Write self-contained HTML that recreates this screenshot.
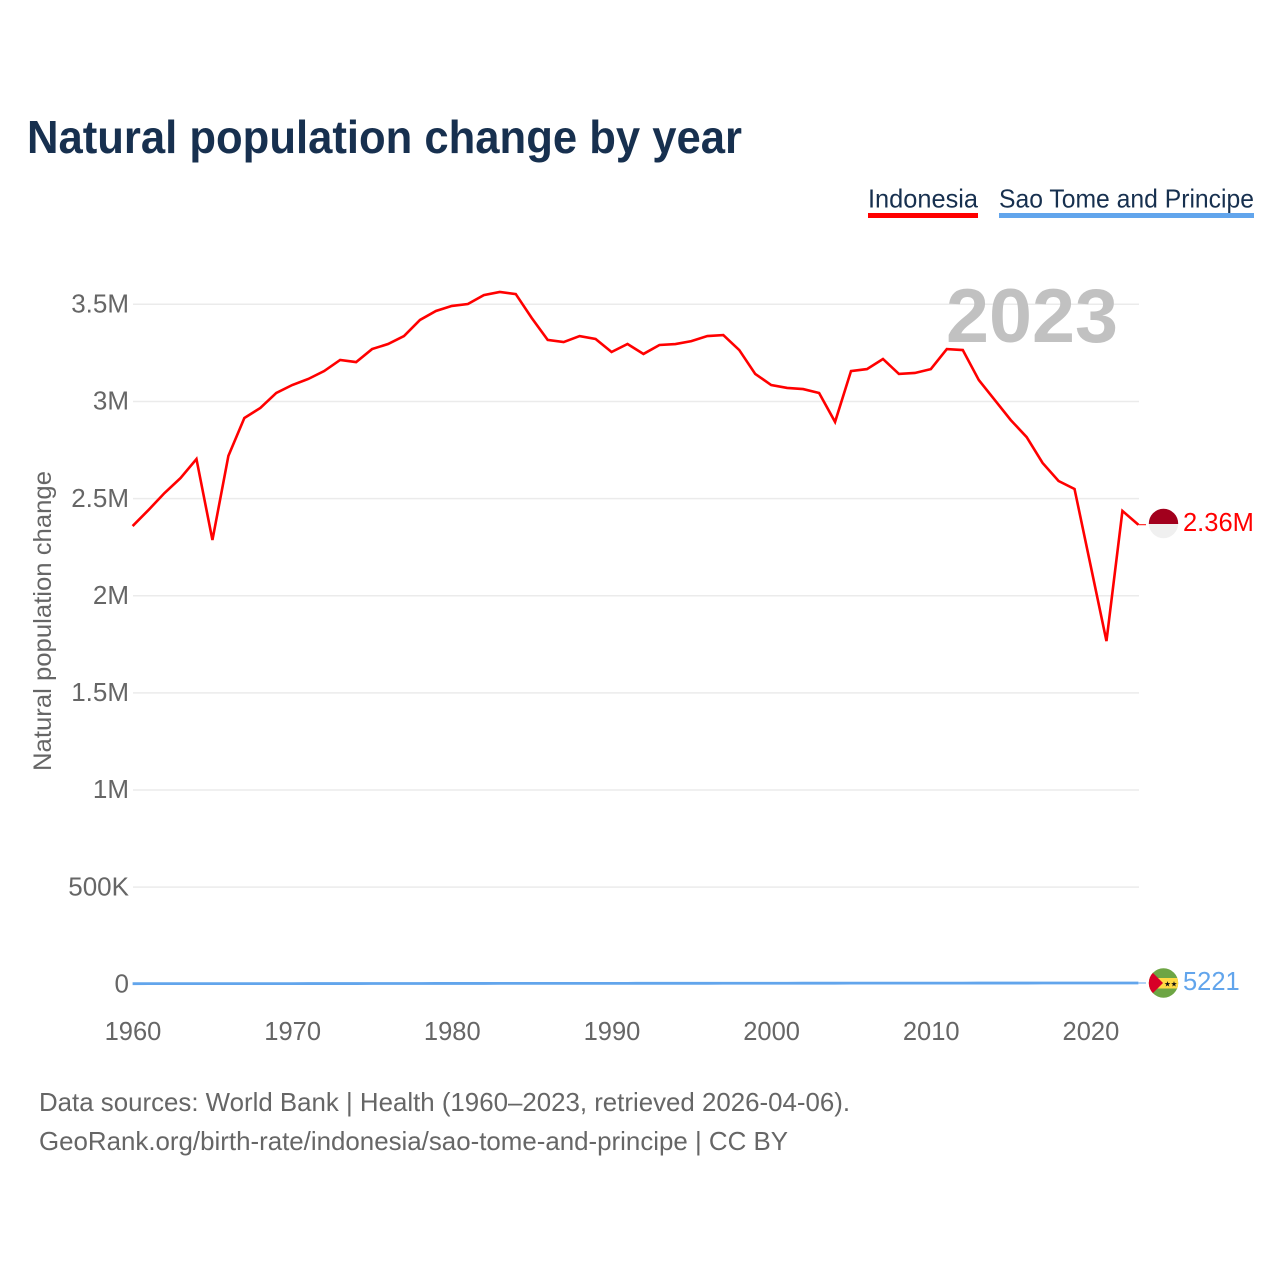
<!DOCTYPE html>
<html lang="en">
<head>
<meta charset="utf-8">
<title>Natural population change by year</title>
<style>
html,body{margin:0;padding:0;background:#fff;}
svg{display:block;font-family:"Liberation Sans",sans-serif;}
</style>
</head>
<body>
<svg id="chart" xmlns="http://www.w3.org/2000/svg" width="1280" height="1280" viewBox="0 0 1280 1280">
<rect x="0" y="0" width="1280" height="1280" fill="#fff"/>
<text x="27" y="153" font-size="46" font-weight="700" fill="#17304f" textLength="715" lengthAdjust="spacingAndGlyphs">Natural population change by year</text>
<g>
<text x="868" y="207.5" font-size="26" fill="#17304f" textLength="110" lengthAdjust="spacingAndGlyphs">Indonesia</text>
<rect x="868" y="213" width="110" height="5" fill="#ff0000"/>
</g>
<g>
<text x="999" y="207.5" font-size="26" fill="#17304f" textLength="255" lengthAdjust="spacingAndGlyphs">Sao Tome and Principe</text>
<rect x="999" y="213" width="255" height="5" fill="#62a5ec"/>
</g>
<g id="grid"></g>
<g id="yticks"></g>
<g id="xticks"></g>
<text transform="translate(51,621) rotate(-90)" text-anchor="middle" font-size="25" fill="#666" textLength="300" lengthAdjust="spacingAndGlyphs">Natural population change</text>
<text x="946" y="342" font-size="76" font-weight="700" fill="#c1c1c1" textLength="172" lengthAdjust="spacingAndGlyphs">2023</text>
<g id="series"></g>
<defs>
<clipPath id="clip-id"><circle cx="1163.5" cy="523.5" r="14.7"/></clipPath>
<clipPath id="clip-st"><circle cx="1163.5" cy="983" r="14.7"/></clipPath>
</defs>
<g clip-path="url(#clip-id)">
<rect x="1148" y="508" width="31" height="16" fill="#a2001d"/>
<rect x="1148" y="524" width="31" height="16" fill="#f0f0f0"/>
</g>
<g clip-path="url(#clip-st)">
<rect x="1148" y="968" width="31" height="31" fill="#6da544"/>
<rect x="1148" y="978" width="31" height="10.5" fill="#ffda44"/>
<polygon points="1148,968 1163,983 1148,998" fill="#d80027"/>
<text x="1167.5" y="986.5" font-size="7.5" text-anchor="middle" fill="#111" font-family="'DejaVu Sans',sans-serif">★</text>
<text x="1174" y="986.5" font-size="7.5" text-anchor="middle" fill="#111" font-family="'DejaVu Sans',sans-serif">★</text>
</g>
<text id="label-id" x="1183" y="531" font-size="25.5" fill="#ff0000"></text>
<text id="label-st" x="1183" y="990" font-size="25.5" fill="#62a5ec"></text>
<text x="39" y="1111" font-size="26" fill="#666" textLength="811" lengthAdjust="spacingAndGlyphs">Data sources: World Bank | Health (1960–2023, retrieved 2026-04-06).</text>
<text x="39" y="1150" font-size="26" fill="#666" textLength="749" lengthAdjust="spacingAndGlyphs">GeoRank.org/birth-rate/indonesia/sao-tome-and-principe | CC BY</text>
</svg>
<script>
const years = [1960,1961,1962,1963,1964,1965,1966,1967,1968,1969,1970,1971,1972,1973,1974,1975,1976,1977,1978,1979,1980,1981,1982,1983,1984,1985,1986,1987,1988,1989,1990,1991,1992,1993,1994,1995,1996,1997,1998,1999,2000,2001,2002,2003,2004,2005,2006,2007,2008,2009,2010,2011,2012,2013,2014,2015,2016,2017,2018,2019,2020,2021,2022,2023];
const indonesia = [2357000,2440000,2527000,2604000,2702000,2285000,2718000,2913000,2965000,3042000,3083000,3114000,3155000,3212000,3201000,3268000,3294000,3335000,3418000,3464000,3490000,3500000,3546000,3562000,3551000,3428000,3315000,3304000,3335000,3320000,3253000,3294000,3243000,3289000,3294000,3309000,3335000,3340000,3263000,3140000,3083000,3068000,3062000,3042000,2893000,3155000,3165000,3217000,3140000,3145000,3165000,3268000,3263000,3109000,3006000,2903000,2815000,2682000,2589000,2548000,2157000,1765000,2435000,2364000];
const saoTome = [1700,1750,1800,1800,1850,1900,1850,1900,2000,2050,2100,2150,2200,2300,2300,2400,2500,2600,2700,2800,2900,3000,3000,3100,3100,3200,3100,3200,3300,3300,3400,3400,3500,3500,3500,3600,3600,3700,3700,3800,3900,4000,4100,4200,4200,4300,4300,4400,4400,4500,4600,4700,4700,4800,4800,4900,4900,5000,5000,5100,5100,5200,5200,5221];
const yTickValues = [0,500000,1000000,1500000,2000000,2500000,3000000,3500000];
const yTickLabels = ["0","500K","1M","1.5M","2M","2.5M","3M","3.5M"];
const xTickValues = [1960,1970,1980,1990,2000,2010,2020];

const SVG_NS = 'http://www.w3.org/2000/svg';
function xScale(year){ return 132.6 + (year - 1960) * 15.965; }
function yScale(value){ return 984 - value * 680 / 3500000; }
function formatValue(v){
  if (v >= 1000000) return (v / 1000000).toFixed(2) + 'M';
  return String(v);
}
function svgEl(tag, attrs){
  const el = document.createElementNS(SVG_NS, tag);
  for (const k in attrs) el.setAttribute(k, attrs[k]);
  return el;
}

const grid = document.getElementById('grid');
const yticks = document.getElementById('yticks');
const xticks = document.getElementById('xticks');
const series = document.getElementById('series');

yTickValues.forEach(function(v, i){
  if (v > 0) {
    const line = svgEl('line', {x1: 133, x2: 1139, y1: yScale(v) + 0.3, y2: yScale(v) + 0.3, stroke: '#ebebeb', 'stroke-width': 1.5});
    
    
    grid.appendChild(line);
  }
  const t = svgEl('text', {x: 129, y: yScale(v) + 8.5, 'text-anchor': 'end', 'font-size': 26, fill: '#666'});
  
  
  t.textContent = yTickLabels[i];
  yticks.appendChild(t);
});

xTickValues.forEach(function(y){
  const t = svgEl('text', {x: xScale(y) + 0.4, y: 1040, 'text-anchor': 'middle', 'font-size': 25.5, fill: '#666'});
  
  
  t.textContent = String(y);
  xticks.appendChild(t);
});

function drawSeries(values, color, name, width){
  const pts = values.map(function(v, i){ return xScale(years[i]).toFixed(2) + ',' + yScale(v).toFixed(2); }).join(' ');
  const line = svgEl('polyline', {points: pts, fill: 'none', stroke: color, 'stroke-width': width, 'stroke-linejoin': 'miter'});
  
  
  series.appendChild(line);
  const lastY = yScale(values[values.length - 1]);
  const conn = svgEl('line', {x1: xScale(years[years.length - 1]), x2: 1146, y1: lastY, y2: lastY, stroke: color, 'stroke-width': 1});
  
  
  series.appendChild(conn);
}
drawSeries(indonesia, '#ff0000', 'line-indonesia', 2.6);
drawSeries(saoTome, '#62a5ec', 'line-sao-tome', 2.8);

document.getElementById('label-id').textContent = formatValue(indonesia[indonesia.length - 1]);
document.getElementById('label-st').textContent = formatValue(saoTome[saoTome.length - 1]);
</script>
</body>
</html>
